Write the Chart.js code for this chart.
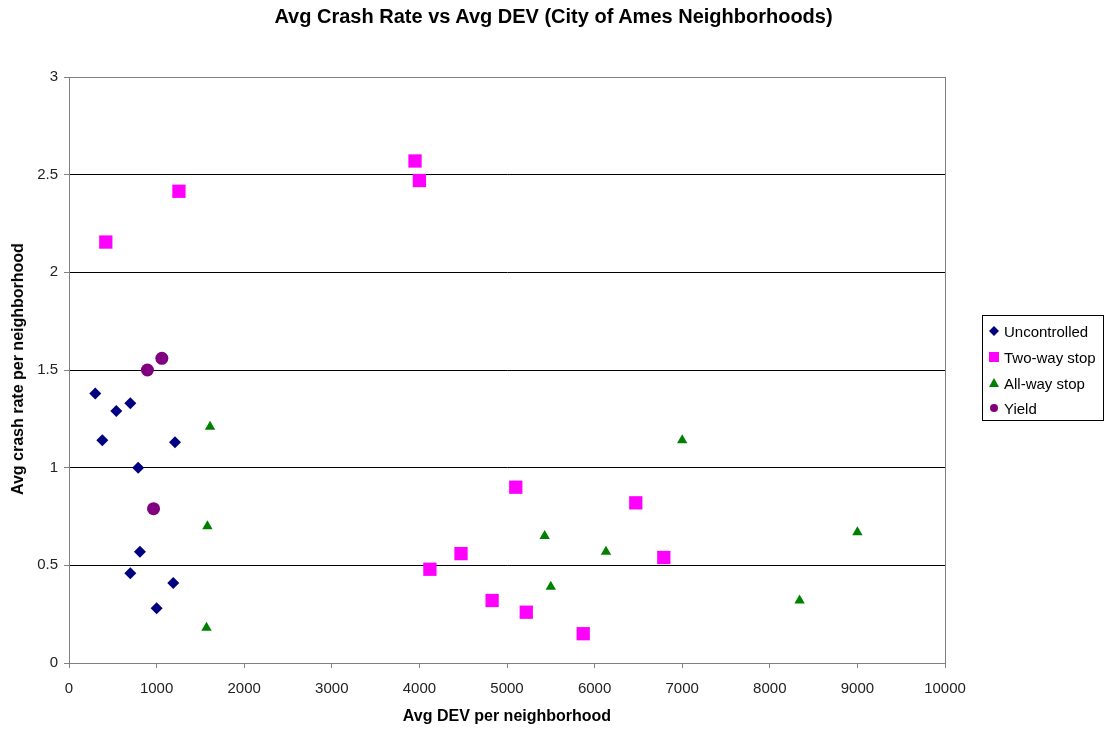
<!DOCTYPE html>
<html>
<head>
<meta charset="utf-8">
<script src="https://cdn.jsdelivr.net/npm/chart.js@4"></script>
<style>
  html, body { margin:0; padding:0; background:#fff; }
  #wrap { position:relative; width:1107px; height:729px; font-family: Arial, "Liberation Sans", sans-serif; }
  canvas { position:absolute; left:0; top:0; }
  #title { position:absolute; left:0; width:1107px; top:5px; text-align:center; font-weight:bold; font-size:20px; color:#000; }
  #xtitle { position:absolute; left:69px; width:876px; top:707px; text-align:center; font-weight:bold; font-size:16px; color:#000; }
  #ytitle { position:absolute; left:18px; top:369px; transform: translate(-50%,-50%) rotate(-90deg); white-space:nowrap; font-weight:bold; font-size:16px; color:#000; }
  #legend { position:absolute; left:982px; top:315px; width:122px; height:106px; border:1px solid #000; box-sizing:border-box; font-size:15px; color:#000; }
  .item { position:absolute; left:4px; height:20px; display:flex; align-items:center; }
  .item svg { width:14px; height:14px; margin-right:3px; }
</style>
</head>
<body>
<div id="wrap">
  <canvas id="c" width="1107" height="729"></canvas>
  <div id="title">Avg Crash Rate vs Avg DEV (City of Ames Neighborhoods)</div>
  <div id="xtitle">Avg DEV per neighborhood</div>
  <div id="ytitle">Avg crash rate per neighborhood</div>
  <div id="legend">
    <div class="item" style="top:5px"><svg viewBox="0 0 14 14"><polygon points="7,2 12,7 7,12 2,7" fill="#000080"/></svg>Uncontrolled</div>
    <div class="item" style="top:31px"><svg viewBox="0 0 14 14"><rect x="2" y="2" width="10" height="10" fill="#FF00FF"/></svg>Two-way stop</div>
    <div class="item" style="top:57px"><svg viewBox="0 0 14 14"><polygon points="7,2 12,11 2,11" fill="#008000"/></svg>All-way stop</div>
    <div class="item" style="top:82px"><svg viewBox="0 0 14 14"><circle cx="7" cy="7" r="4" fill="#800080"/></svg>Yield</div>
  </div>
</div>
<script>
// ---- Data ----
const uncontrolledX = [300, 380, 540, 700, 790, 1210, 810, 700, 1190, 1000];
const uncontrolledY = [1.38, 1.14, 1.29, 1.33, 1.00, 1.13, 0.57, 0.46, 0.41, 0.28];

const twoWayX = [420, 1255, 3950, 4000, 4120, 4475, 5100, 4830, 5220, 5870, 6470, 6790];
const twoWayY = [2.155, 2.415, 2.57, 2.47, 0.48, 0.56, 0.90, 0.32, 0.26, 0.15, 0.82, 0.54];

const allWayX = [1610, 1580, 1570, 5430, 5500, 6130, 7000, 9000, 8340];
const allWayY = [1.21, 0.70, 0.18, 0.65, 0.39, 0.57, 1.14, 0.67, 0.32];

const yieldX = [895, 1060, 965];
const yieldY = [1.50, 1.56, 0.79];

const seriesNames = ["Uncontrolled", "Two-way stop", "All-way stop", "Yield"];
const xTicks = [0, 1000, 2000, 3000, 4000, 5000, 6000, 7000, 8000, 9000, 10000];
const yTicks = [0, 0.5, 1, 1.5, 2, 2.5, 3];

function pts(xs, ys) { return xs.map((x, i) => ({ x: x, y: ys[i] })); }

const plotBorder = {
  id: 'plotBorder',
  afterDraw(chart) {
    const a = chart.chartArea, ctx = chart.ctx;
    ctx.save();
    ctx.strokeStyle = '#808080';
    ctx.lineWidth = 1;
    ctx.strokeRect(Math.round(a.left) + 0.5, Math.round(a.top) + 0.5, Math.round(a.right - a.left), Math.round(a.bottom - a.top));
    ctx.restore();
  }
};

new Chart(document.getElementById('c'), {
  type: 'scatter',
  data: {
    datasets: [
      { label: seriesNames[0], data: pts(uncontrolledX, uncontrolledY), pointStyle: 'rectRot', pointRadius: 6, pointHoverRadius: 6, backgroundColor: '#000080', borderColor: '#000080', borderWidth: 0 },
      { label: seriesNames[1], data: pts(twoWayX, twoWayY), pointStyle: 'rect', pointRadius: 9.4, pointHoverRadius: 9.4, backgroundColor: '#FF00FF', borderColor: '#FF00FF', borderWidth: 0 },
      { label: seriesNames[2], data: pts(allWayX, allWayY), pointStyle: 'triangle', pointRadius: 6, pointHoverRadius: 6, backgroundColor: '#008000', borderColor: '#008000', borderWidth: 0 },
      { label: seriesNames[3], data: pts(yieldX, yieldY), pointStyle: 'circle', pointRadius: 6.5, pointHoverRadius: 6.5, backgroundColor: '#800080', borderColor: '#800080', borderWidth: 0 }
    ]
  },
  options: {
    responsive: false,
    animation: false,
    events: [],
    layout: { padding: { top: 77, right: 162, left: 0, bottom: 0 } },
    plugins: { legend: { display: false }, title: { display: false }, tooltip: { enabled: false } },
    scales: {
      x: {
        type: 'linear', min: 0, max: 10000,
        afterBuildTicks(s) { s.ticks = xTicks.map(v => ({ value: v })); },
        afterFit(s) { s.height = 66; },
        border: { color: '#808080', width: 1 },
        grid: { drawOnChartArea: false, tickLength: 5, tickColor: '#808080', color: '#808080' },
        ticks: { color: '#222', font: { family: 'Arial', size: 15 }, padding: 12, maxRotation: 0, autoSkip: false, callback: v => String(v) }
      },
      y: {
        type: 'linear', min: 0, max: 3,
        afterBuildTicks(s) { s.ticks = yTicks.map(v => ({ value: v })); },
        afterFit(s) { s.width = 69; },
        border: { color: '#808080', width: 1 },
        grid: { drawOnChartArea: true, tickLength: 5, tickColor: '#808080', color: '#000' },
        ticks: { color: '#222', font: { family: 'Arial', size: 15 }, padding: 6, autoSkip: false, callback: v => String(v) }
      }
    }
  },
  plugins: [plotBorder]
});
</script>
</body>
</html>
